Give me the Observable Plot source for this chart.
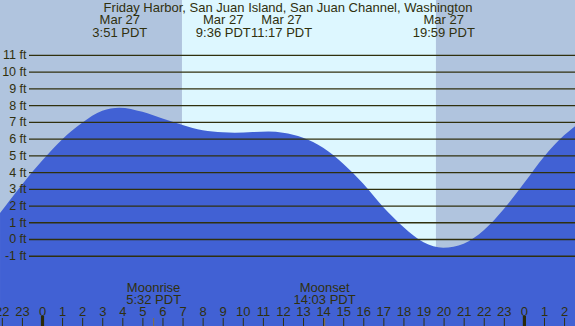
<!DOCTYPE html>
<html>
<head>
<meta charset="utf-8">
<script src="https://cdn.jsdelivr.net/npm/d3@7"></script>
<script src="https://cdn.jsdelivr.net/npm/@observablehq/plot@0.6"></script>
<style>
  html, body { margin: 0; padding: 0; background: #b0c4de; }
  #chart svg { display: block; }
</style>
</head>
<body>
<div id="chart"></div>
<script>
// Tide curve (hours since midnight Mar 27, PDT) and heights in ft
const hours   = [-2.09, -1, 0, 1, 2, 3, 3.85, 5, 6, 7, 8, 9, 9.6, 10.5, 11.28, 12, 13, 14, 15, 16, 17, 18, 19, 19.98, 21, 22, 23, 24, 25, 26, 26.55];
const heights = [1.55, 3.25, 4.67, 5.95, 6.95, 7.67, 7.85, 7.6, 7.2, 6.82, 6.5, 6.38, 6.35, 6.39, 6.42, 6.35, 6.05, 5.45, 4.5, 3.3, 1.9, 0.72, -0.2, -0.52, -0.28, 0.52, 1.79, 3.33, 4.92, 6.2, 6.75];

// Tide events (high / low)
const eventTimes  = [3.85, 9.6, 11.2833, 19.9833];
const eventLabels = ["3:51 PDT", "9:36 PDT", "11:17 PDT", "19:59 PDT"];
const eventDate   = "Mar 27";

// Sun
const sunrise = 6.97;
const sunset  = 19.62;

// Moon
const moonTimes  = [5.5333, 14.05];
const moonNames  = ["Moonrise", "Moonset"];
const moonLabels = ["5:32 PDT", "14:03 PDT"];

// Axis ticks
const ftTicks   = [-1, 0, 1, 2, 3, 4, 5, 6, 7, 8, 9, 10, 11];
const hourTicks = d3.range(-2, 27);

const title = "Friday Harbor, San Juan Island, San Juan Channel, Washington";

const xDomain = [-2.0916, 26.544];
const yDomain = [-5.2, 14.285];

const ink = "#30300e";
const font = "'Liberation Sans', Arial, sans-serif";

const tide = hours.map((h, i) => ({h, ft: heights[i]}));
const shades = [
  {x1: xDomain[0], x2: sunrise, fill: "#b0c4de"},
  {x1: sunrise, x2: sunset, fill: "#ddf7ff"},
  {x1: sunset, x2: xDomain[1], fill: "#b0c4de"}
];
const events = eventTimes.map((t, i) => ({t, label: eventLabels[i], date: eventDate}));
// labels that would collide are pushed apart
const eventShift = [0, -12, 12.5, 0];
const moons = moonTimes.map((t, i) => ({t, name: moonNames[i], label: moonLabels[i]}));

const eventMarks = events.flatMap((e, i) => [
  Plot.text([e], {x: "t", text: "date", frameAnchor: "top", dy: 19.5, dx: eventShift[i], lineAnchor: "middle", fill: ink}),
  Plot.text([e], {x: "t", text: "label", frameAnchor: "top", dy: 32, dx: eventShift[i], lineAnchor: "middle", fill: ink})
]);

const chart = Plot.plot({
  width: 575,
  height: 326,
  margin: 0,
  x: {domain: xDomain, axis: null},
  y: {domain: yDomain, axis: null},
  style: {fontFamily: font, fontSize: "13px", background: "#b0c4de"},
  marks: [
    Plot.rect(shades, {x1: "x1", x2: "x2", y1: yDomain[0], y2: yDomain[1], fill: d => d.fill}),
    Plot.areaY(tide, {x: "h", y1: yDomain[0], y2: "ft", fill: "#4161d4", curve: "monotone-x"}),
    Plot.ruleY(ftTicks, {y: d => d, stroke: ink, strokeWidth: 1.3, insetLeft: 29}),
    Plot.text(ftTicks, {y: d => d, text: d => `${d} ft`, frameAnchor: "left", dx: 26, textAnchor: "end", fill: ink, fontSize: 12.5}),
    Plot.text([title], {text: d => d, frameAnchor: "top", dy: 7, lineAnchor: "middle", fill: ink}),
    ...eventMarks,
    Plot.ruleX(hourTicks.filter(h => h % 24 !== 0), {x: d => d, insetTop: 318, stroke: ink, strokeWidth: 1}),
    Plot.ruleX(hourTicks.filter(h => h % 24 === 0), {x: d => d, insetTop: 316, stroke: "#2a2a08", strokeWidth: 3.2}),
    Plot.ruleX(moons, {x: "t", insetTop: 318, stroke: "#7d6e52", strokeWidth: 1.2}),
    Plot.text(hourTicks, {x: d => d, text: d => String(((d % 24) + 24) % 24), frameAnchor: "bottom", dy: -14.3, lineAnchor: "middle", fill: ink}),
    Plot.text(moons, {x: "t", text: "name", frameAnchor: "bottom", dy: -39, lineAnchor: "middle", fill: ink}),
    Plot.text(moons, {x: "t", text: "label", frameAnchor: "bottom", dy: -27, lineAnchor: "middle", fill: ink})
  ]
});

document.getElementById("chart").append(chart);
</script>
</body>
</html>
